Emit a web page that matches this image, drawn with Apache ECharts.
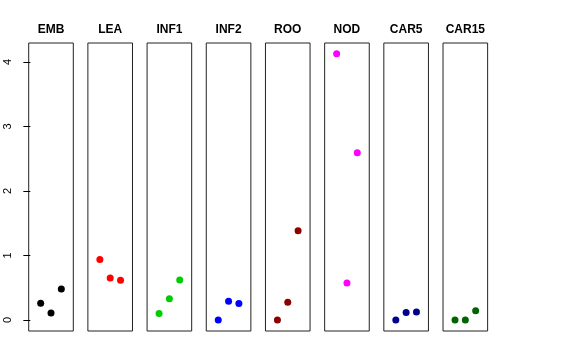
<!DOCTYPE html>
<html>
<head>
<meta charset="utf-8">
<script src="https://cdn.jsdelivr.net/npm/echarts@6/dist/echarts.min.js"></script>
<style>html,body{margin:0;padding:0;background:#fff}#c{width:576px;height:360px}</style>
</head>
<body>
<div id="c"></div>
<script>
const categories = ['EMB','LEA','INF1','INF2','ROO','NOD','CAR5','CAR15'];
const positions = [1, 2, 3];
const EMB = [0.26, 0.11, 0.48];
const LEA = [0.94, 0.65, 0.615];
const INF1 = [0.10, 0.33, 0.62];
const INF2 = [0.00, 0.29, 0.255];
const ROO = [0.00, 0.275, 1.385];
const NOD = [4.13, 0.575, 2.595];
const CAR5 = [0.00, 0.115, 0.125];
const CAR15 = [0.00, 0.00, 0.145];
const yTicks = [0, 1, 2, 3, 4];
const seriesValues = [EMB, LEA, INF1, INF2, ROO, NOD, CAR5, CAR15];
const colors = ['#000000','#FF0000','#00CD00','#0000FF','#8B0000','#FF00FF','#00008B','#006400'];

(function(){
const chart = echarts.init(document.getElementById('c'), null, {renderer:'canvas'});
const FONT = '"Liberation Sans", Arial, Helvetica, sans-serif';
const left0 = 28.7, step = 59.19, pw = 44.6, gTop = 43, ph = 288;
const grids = [], xAxes = [], yAxes = [], series = [], graphics = [];
categories.forEach((name, i) => {
  const l = left0 + step * i;
  grids.push({left: l, top: gTop, width: pw, height: ph, show: true, borderColor: '#222', borderWidth: 1, backgroundColor: 'transparent', containLabel: false});
  xAxes.push({gridIndex: i, type: 'value', min: -0.16, max: 4.16, show: false});
  yAxes.push({
    gridIndex: i, type: 'value', min: -0.17, max: 4.295, show: i === 0,
    axisLine: {show: false}, splitLine: {show: false},
    axisTick: {show: true, length: 7, lineStyle: {color: '#000'}, customValues: yTicks},
    axisLabel: {show: true, rotate: 90, fontSize: 11, color: '#000', fontFamily: FONT, margin: 15, customValues: yTicks, formatter: v => String(v)}
  });
  series.push({
    type: 'scatter', xAxisIndex: i, yAxisIndex: i, symbol: 'circle', symbolSize: 7,
    itemStyle: {color: colors[i], opacity: 1}, silent: true,
    data: positions.map((p, j) => [p, seriesValues[i][j]])
  });
  graphics.push({type: 'text', x: l + pw / 2, y: 29.5, style: {text: name, fill: '#000', font: 'bold 12px ' + FONT, textAlign: 'center', textVerticalAlign: 'middle'}});
});
chart.setOption({
  animation: false,
  backgroundColor: '#fff',
  grid: grids, xAxis: xAxes, yAxis: yAxes, series: series,
  graphic: graphics
});
})();
</script>
</body>
</html>
